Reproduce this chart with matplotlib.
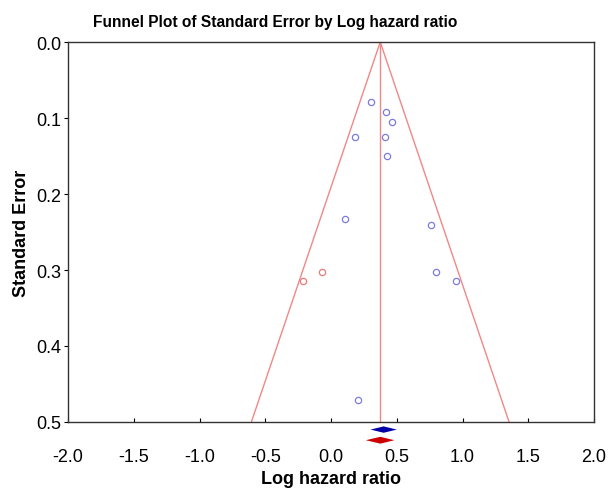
# funnel plot of standard error by log hazard ratio (trim and fill)
import matplotlib
matplotlib.use("Agg")
import matplotlib.pyplot as plt
import numpy as np

# data =================================================================
# observed studies
log_hr = [0.302, 0.418, 0.466, 0.185, 0.413, 0.426, 0.106, 0.760, 0.801, 0.948, 0.203]
std_err = [0.079, 0.092, 0.105, 0.125, 0.125, 0.150, 0.233, 0.241, 0.302, 0.314, 0.471]
# imputed studies
imputed_hr = [-0.066, -0.213]
imputed_se = [0.302, 0.314]
# funnel
funnel_center = 0.374
se_max = 0.5
# summary diamonds: (estimate, lower, upper)
observed_summary = (0.40, 0.30, 0.50)
adjusted_summary = (0.375, 0.264, 0.481)

x_ticks = [-2.0, -1.5, -1.0, -0.5, 0.0, 0.5, 1.0, 1.5, 2.0]
y_ticks = [0.0, 0.1, 0.2, 0.3, 0.4, 0.5]


def diamond(ax, summary, y, half_h, color):
    est, lo, hi = summary
    xs = [lo, est, hi, est]
    ys = [y, y - half_h, y, y + half_h]
    ax.fill(xs, ys, color=color, clip_on=False, zorder=5, lw=0)


def main():
    plt.rcParams['font.family'] = ['Liberation Sans', 'DejaVu Sans']
    fig = plt.figure(figsize=(6.08, 4.89), dpi=100)
    ax = fig.add_axes([0.112, 0.135, 0.865, 0.777])

    # funnel lines
    half = 1.96 * se_max
    ax.plot([funnel_center - half, funnel_center, funnel_center + half],
            [se_max, 0, se_max], color='#f08888', lw=1.0)
    ax.plot([funnel_center, funnel_center], [0, se_max], color='#f08888', lw=1.0)

    # studies
    ax.plot(log_hr, std_err, 'o', mfc='none', mec='#7c7cdc', ms=4.5, mew=0.9)
    ax.plot(imputed_hr, imputed_se, 'o', mfc='none', mec='#e87a7a', ms=4.5, mew=0.9)

    # summary diamonds below the axis
    diamond(ax, observed_summary, 0.510, 0.0042, '#0000a8')
    diamond(ax, adjusted_summary, 0.524, 0.0045, '#cc0000')

    ax.set_xlim(-2.0, 2.0)
    ax.set_ylim(0.5, 0.0)
    ax.set_xticks(x_ticks)
    ax.set_xticklabels([f'{t:.1f}' for t in x_ticks])
    ax.set_yticks(y_ticks)
    ax.set_yticklabels([f'{t:.1f}' for t in y_ticks])
    ax.tick_params(axis='x', direction='in', length=3, pad=19, labelsize=13)
    ax.tick_params(axis='y', direction='out', length=3, pad=2, labelsize=13)
    for s in ax.spines.values():
        s.set_linewidth(1.0)
        s.set_color('#333333')

    ax.set_xlabel('Log hazard ratio', fontsize=13, fontweight='bold', labelpad=3)
    ax.set_ylabel('Standard Error', fontsize=13, fontweight='bold', labelpad=4)
    fig.text(0.452, 0.953, 'Funnel Plot of Standard Error by Log hazard ratio',
             ha='center', va='center', fontsize=11.2, fontweight='bold')

    fig.savefig('out.png', dpi=100)


if __name__ == "__main__":
    main()
